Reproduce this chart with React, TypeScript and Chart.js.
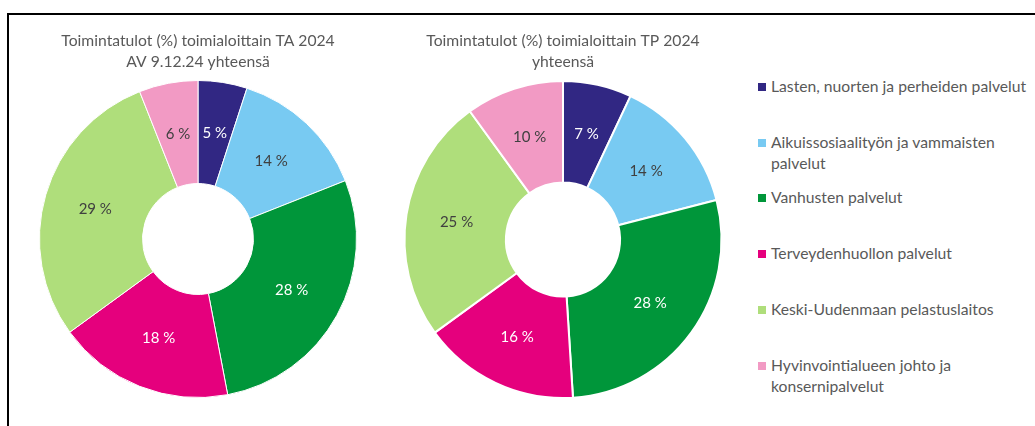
import React, { useEffect, useRef } from "react";
import { Chart, registerables } from "chart.js";

Chart.register(...registerables);

const categories = [
  "Lasten, nuorten ja perheiden palvelut",
  "Aikuissosiaalityön ja vammaisten palvelut",
  "Vanhusten palvelut",
  "Terveydenhuollon palvelut",
  "Keski-Uudenmaan pelastuslaitos",
  "Hyvinvointialueen johto ja konsernipalvelut",
];
const valuesTA2024 = [5, 14, 28, 18, 29, 6];
const valuesTP2024 = [7, 14, 28, 16, 25, 10];
const titleTA = ["Toimintatulot (%) toimialoittain TA 2024", "AV 9.12.24 yhteensä"];
const titleTP = ["Toimintatulot (%) toimialoittain TP 2024", "yhteensä"];

const sliceColors = ["#312783", "#78CAF2", "#00963A", "#E5007D", "#AFDE7B", "#F29AC4"];
const labelColors = ["#ffffff", "#404040", "#ffffff", "#ffffff", "#404040", "#404040"];

const FONT = "Lato, 'Open Sans', sans-serif";
const TEXT_GREY = "#595959";

const sliceLabels = {
  id: "sliceLabels",
  afterDatasetsDraw(chart: any) {
    const { ctx } = chart;
    const meta = chart.getDatasetMeta(0);
    const data = chart.data.datasets[0].data as number[];
    ctx.save();
    ctx.font = `15px ${FONT}`;
    ctx.textAlign = "center";
    ctx.textBaseline = "middle";
    meta.data.forEach((arc: any, i: number) => {
      const p = arc.tooltipPosition(false);
      ctx.fillStyle = labelColors[i];
      ctx.fillText(`${data[i]} %`, p.x, p.y);
    });
    ctx.restore();
  },
};

function Donut(props: {
  values: number[];
  title: string[];
  borderWidth: number;
  cutout: string;
  width: number;
  height: number;
  style: React.CSSProperties;
}) {
  const ref = useRef<HTMLCanvasElement | null>(null);
  useEffect(() => {
    if (!ref.current) return;
    const chart = new Chart(ref.current, {
      type: "doughnut",
      data: {
        labels: categories,
        datasets: [
          {
            data: props.values,
            backgroundColor: sliceColors,
            borderColor: "#ffffff",
            borderWidth: props.borderWidth,
          },
        ],
      },
      options: {
        responsive: false,
        animation: false,
        events: [],
        cutout: props.cutout,
        layout: { padding: 0 },
        plugins: {
          legend: { display: false },
          tooltip: { enabled: false },
          title: {
            display: true,
            text: props.title,
            color: TEXT_GREY,
            font: { family: FONT, size: 15.7, weight: "normal", lineHeight: "21px" },
            padding: { top: 8, bottom: 8 },
          },
        },
      } as any,
      plugins: [sliceLabels],
    });
    return () => chart.destroy();
  }, []);
  return (
    <canvas
      ref={ref}
      width={props.width}
      height={props.height}
      style={{ position: "absolute", width: props.width, height: props.height, ...props.style }}
    />
  );
}

export default function App() {
  return (
    <div
      style={{
        position: "fixed",
        left: 0,
        top: 0,
        width: 1035,
        height: 426,
        overflow: "hidden",
        background: "#ffffff",
        fontFamily: FONT,
      }}
    >
      <div
        style={{
          position: "absolute",
          left: 7,
          top: 13,
          width: 1100,
          height: 500,
          border: "2px solid #000000",
          boxSizing: "border-box",
        }}
      />
      <Donut values={valuesTA2024} title={titleTA} borderWidth={1} cutout="35%" width={360} height={376} style={{ left: 18, top: 22 }} />
      <Donut values={valuesTP2024} title={titleTP} borderWidth={2} cutout="36%" width={360} height={377} style={{ left: 383, top: 22 }} />
      {categories.map((c, i) => (
        <div
          key={c}
          style={{
            position: "absolute",
            left: 758,
            top: 76 + i * 55.7,
            width: 275,
            fontSize: 15.7,
            lineHeight: "21.5px",
            color: TEXT_GREY,
          }}
        >
          <span
            style={{
              position: "absolute",
              left: 0,
              top: 7,
              width: 8,
              height: 8,
              background: sliceColors[i],
            }}
          />
          <div style={{ marginLeft: 13 }}>{c}</div>
        </div>
      ))}
    </div>
  );
}
